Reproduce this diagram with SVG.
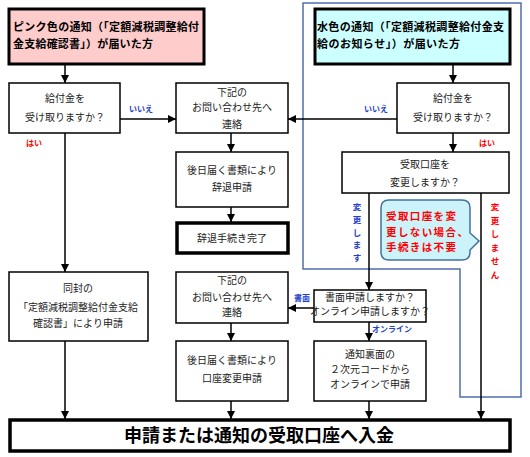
<svg xmlns="http://www.w3.org/2000/svg" width="530" height="457" viewBox="0 0 530 457">
<defs>
<marker id="arr" markerUnits="userSpaceOnUse" markerWidth="9" markerHeight="9" refX="8" refY="4" orient="auto">
<path d="M0,0 L8,4 L0,8 z" fill="#000"/>
</marker>
<style>
text{font-family:"Noto Sans CJK JP","Noto Sans",sans-serif;font-kerning:none;font-feature-settings:"chws" 0,"halt" 0,"palt" 0;}
.box{fill:#fff;stroke:#000;stroke-width:1.5;}
.thick{fill:#fff;stroke:#000;stroke-width:3.5;}
.t{font-size:10px;fill:#222;text-anchor:middle;}
.title{font-size:11px;font-weight:bold;fill:#000;}
.con{stroke:#000;stroke-width:1.5;fill:none;marker-end:url(#arr);}
.blue{fill:#2440c8;font-weight:bold;}
.red{fill:#ff0000;font-weight:bold;}
</style>
</defs>
<rect width="530" height="457" fill="#fff"/>
<polygon id="online-area" points="303,3 521,3 521,397 460,397 460,269 303,269" fill="none" stroke="#4F6EAF" stroke-width="1.5"/>

<g id="connectors">
<line class="con" x1="65" y1="64" x2="65" y2="83"/>
<line class="con" x1="65" y1="133" x2="65" y2="272"/>
<line class="con" x1="65" y1="341" x2="65" y2="419"/>
<line class="con" x1="120" y1="119" x2="176" y2="119"/>
<line class="con" x1="397" y1="119" x2="288" y2="119"/>
<line class="con" x1="231" y1="133" x2="231" y2="152"/>
<line class="con" x1="231" y1="207" x2="231" y2="222"/>
<line class="con" x1="231" y1="323" x2="231" y2="341"/>
<line class="con" x1="231" y1="401" x2="231" y2="419"/>
<line class="con" x1="453" y1="64" x2="453" y2="83"/>
<line class="con" x1="453" y1="133" x2="453" y2="152"/>
<line class="con" x1="369" y1="193" x2="369" y2="290"/>
<line class="con" x1="481" y1="193" x2="481" y2="419"/>
<line class="con" x1="314" y1="308" x2="288" y2="308"/>
<line class="con" x1="369" y1="322" x2="369" y2="341"/>
<line class="con" x1="369" y1="401" x2="369" y2="419"/>
<text class="blue" x="141" y="112" font-size="8" text-anchor="middle">いいえ</text>
<text class="red" x="34" y="146" font-size="8" text-anchor="middle">はい</text>
<text class="blue" x="376" y="112" font-size="8" text-anchor="middle">いいえ</text>
<text class="red" x="487" y="146" font-size="8" text-anchor="middle">はい</text>
<text class="blue" x="302" y="301" font-size="8" text-anchor="middle">書面</text>
<text class="blue" x="392" y="332" font-size="8" text-anchor="middle">オンライン</text>
<text class="blue" font-size="8.5" text-anchor="middle"><tspan x="357" y="210">変</tspan><tspan x="357" dy="12.8">更</tspan><tspan x="357" dy="12.8">し</tspan><tspan x="357" dy="12.8">ま</tspan><tspan x="357" dy="12.8">す</tspan></text>
<text class="red" font-size="8.5" text-anchor="middle"><tspan x="495" y="210">変</tspan><tspan x="495" dy="13.6">更</tspan><tspan x="495" dy="13.6">し</tspan><tspan x="495" dy="13.6">ま</tspan><tspan x="495" dy="13.6">せ</tspan><tspan x="495" dy="13.6">ん</tspan></text>
</g>

<g id="pink-notice">
<rect x="9" y="9" width="195" height="55" fill="#FFCCCC" stroke="#000" stroke-width="3"/>
<text class="title" x="13" y="31" textLength="186" lengthAdjust="spacing">ピンク色の通知（「定額減税調整給付</text>
<text class="title" x="13" y="48" textLength="140" lengthAdjust="spacing">金支給確認書」）が届いた方</text>
</g>

<g id="blue-notice">
<rect x="315" y="9" width="195" height="55" fill="#CCFFFF" stroke="#000" stroke-width="3"/>
<text class="title" x="317" y="31" textLength="187" lengthAdjust="spacing">水色の通知（「定額減税調整給付金支</text>
<text class="title" x="317" y="48" textLength="143" lengthAdjust="spacing">給のお知らせ」）が届いた方</text>
</g>

<g id="q-receive-left">
<rect class="box" x="9" y="83" width="111" height="50"/>
<text class="t" x="65" y="102">給付金を</text>
<text class="t" x="65" y="121">受け取りますか？</text>
</g>

<g id="contact-1">
<rect class="box" x="176" y="83" width="112" height="50"/>
<text class="t" x="232" y="96">下記の</text>
<text class="t" x="232" y="111">お問い合わせ先へ</text>
<text class="t" x="232" y="128">連絡</text>
</g>

<g id="decline-doc">
<rect class="box" x="176" y="152" width="112" height="55"/>
<text class="t" x="232" y="174">後日届く書類により</text>
<text class="t" x="232" y="191">辞退申請</text>
</g>

<g id="decline-done">
<rect class="thick" x="177" y="223" width="111" height="30"/>
<text class="t" x="232" y="242" font-size="12">辞退手続き完了</text>
</g>

<g id="q-receive-right">
<rect class="box" x="397" y="83" width="112" height="50"/>
<text class="t" x="453" y="102">給付金を</text>
<text class="t" x="453" y="121">受け取りますか？</text>
</g>

<g id="q-change">
<rect class="box" x="342" y="152" width="167" height="41"/>
<text class="t" x="425" y="168">受取口座を</text>
<text class="t" x="425" y="186">変更しますか？</text>
</g>

<g id="callout">
<path d="M389,200 H462 Q470,200 470,208 V233 L479,241 L470,250 V252 Q470,260 462,260 H389 Q381,260 381,252 V208 Q381,200 389,200 Z" fill="#CCF2FA" stroke="#41719C" stroke-width="1.5"/>
<text class="red" font-size="10.5" letter-spacing="1.4"><tspan x="386" y="220">受取口座を変</tspan><tspan x="386" y="235.5">更しない場合、</tspan><tspan x="386" y="251">手続きは不要</tspan></text>
</g>

<g id="enclosed">
<rect class="box" x="9" y="272" width="139" height="69"/>
<text class="t" x="78" y="292">同封の</text>
<text class="t" x="78" y="311">「定額減税調整給付金支給</text>
<text class="t" x="78" y="327">確認書」により申請</text>
</g>

<g id="contact-2">
<rect class="box" x="176" y="272" width="112" height="51"/>
<text class="t" x="232" y="284">下記の</text>
<text class="t" x="232" y="301">お問い合わせ先へ</text>
<text class="t" x="232" y="316">連絡</text>
</g>

<g id="change-doc">
<rect class="box" x="176" y="341" width="112" height="60"/>
<text class="t" x="232" y="364">後日届く書類により</text>
<text class="t" x="232" y="382">口座変更申請</text>
</g>

<g id="q-method">
<rect class="box" x="314" y="290" width="112" height="32"/>
<text class="t" x="370" y="301" font-size="7.8">書面申請しますか？</text>
<text class="t" x="370" y="315" font-size="7.8">オンライン申請しますか？</text>
</g>

<g id="online">
<rect class="box" x="314" y="341" width="112" height="60"/>
<text class="t" x="370" y="358" font-size="9">通知裏面の</text>
<text class="t" x="370" y="373" font-size="9">２次元コードから</text>
<text class="t" x="370" y="388" font-size="9">オンラインで申請</text>
</g>

<g id="deposit">
<rect class="thick" x="10" y="420" width="500" height="31"/>
<text x="259" y="442" font-size="18" font-weight="bold" text-anchor="middle" fill="#000">申請または通知の受取口座へ入金</text>
</g>
</svg>
